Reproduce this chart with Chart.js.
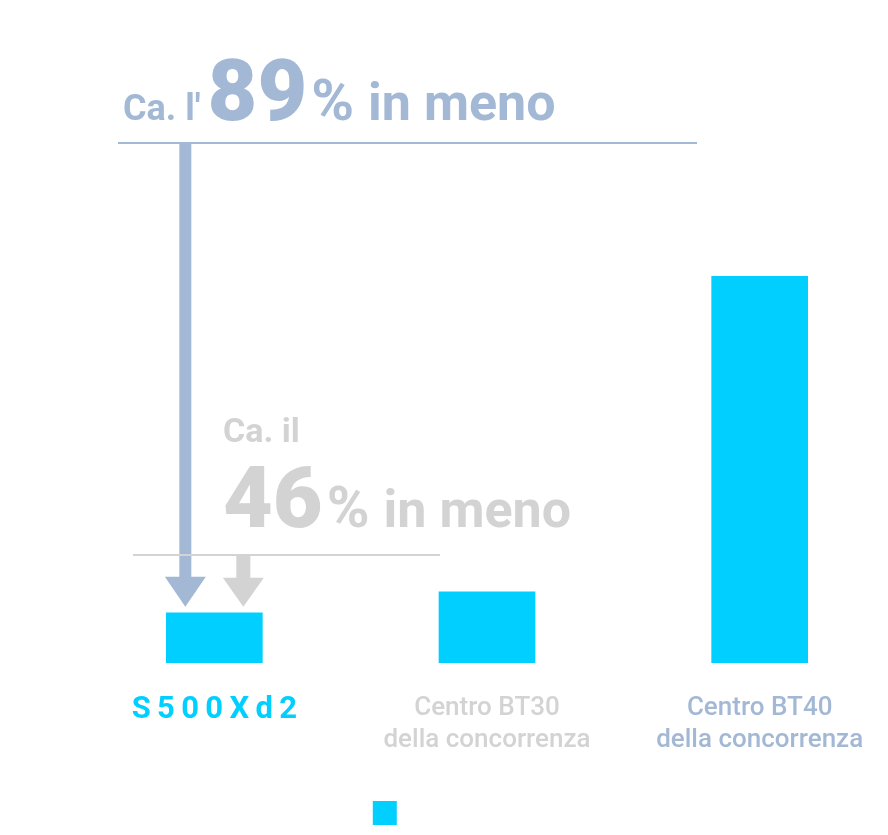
<!DOCTYPE html>
<html>
<head>
<meta charset="utf-8">
<script src="https://cdn.jsdelivr.net/npm/chart.js@4/dist/chart.umd.min.js"></script>
<style>
  html, body { margin: 0; padding: 0; background: #ffffff; overflow: hidden; }
  #wrap { width: 896px; height: 835px; }
</style>
</head>
<body>
<div id="wrap"><canvas id="chart"></canvas></div>
<script>
// categories shown under the bars
const categories = ["S500Xd2", ["Centro BT30", "della concorrenza"], ["Centro BT40", "della concorrenza"]];
// relative values (BT40 = 100)
const values = [13, 18.4, 100];
const seriesLabel = "Consumo energetico";
// colours of each tick label
const tickColors = ["#00cfff", "#d3d3d3", "#a3b8d4"];

const CYAN = "#00cfff";
const BLUE = "#a3b8d4";
const GRAY = "#d3d3d3";
const FONT = "Roboto, 'Liberation Sans', sans-serif";

// draws one annotation: small text + big number + % + "in meno"
function drawPercent(ctx, x, y, parts, color) {
    ctx.fillStyle = color;
    ctx.textBaseline = "alphabetic";
    ctx.textAlign = "left";
    let cx = x;
    parts.forEach(p => {
        ctx.font = (p.weight || "bold") + " " + p.size + "px " + FONT;
        ctx.fillText(p.text, cx, y);
        cx += ctx.measureText(p.text).width + (p.gap || 0);
    });
}

function drawArrow(ctx, x, yTop, yTip, shaft, head, headH, color) {
    ctx.fillStyle = color;
    ctx.fillRect(x - shaft / 2, yTop, shaft, yTip - headH - yTop + 1);
    ctx.beginPath();
    ctx.moveTo(x - head / 2, yTip - headH);
    ctx.lineTo(x + head / 2, yTip - headH);
    ctx.lineTo(x, yTip);
    ctx.closePath();
    ctx.fill();
}

// custom plugin for the "in meno" call-outs
const callouts = {
    id: "callouts",
    afterDraw(chart) {
        const ctx = chart.ctx;
        const bar = chart.getDatasetMeta(0).data[0];
        const tip = bar.y - 6;
        ctx.save();

        // top call-out (vs BT40)
        drawPercent(ctx, 123, 120, [
            { text: "Ca. l'", size: 36, gap: 7 },
            { text: "89", size: 86, weight: "900", gap: 4 },
            { text: "%", size: 58, gap: 14 },
            { text: "in meno", size: 52 }
        ], BLUE);
        ctx.fillStyle = BLUE;
        ctx.fillRect(118, 142, 579, 2);
        drawArrow(ctx, bar.x - 29, 143, tip, 12, 41, 30, BLUE);

        // lower call-out (vs BT30)
        drawPercent(ctx, 223, 442, [{ text: "Ca. il", size: 34 }], GRAY);
        drawPercent(ctx, 223, 527, [
            { text: "46", size: 86, weight: "900", gap: 4 },
            { text: "%", size: 58, gap: 14 },
            { text: "in meno", size: 52 }
        ], GRAY);
        ctx.fillStyle = GRAY;
        ctx.fillRect(133, 554, 307, 2);
        drawArrow(ctx, bar.x + 29, 556, tip, 14, 41, 29, GRAY);

        ctx.restore();
    }
};

const graphRef = document.getElementById("chart");

const chart = new Chart(graphRef, {
    type: "bar",
    data: {
        labels: categories,
        datasets: [{
            label: seriesLabel,
            data: values,
            backgroundColor: CYAN,
            barThickness: 96
        }]
    },
    options: {
        responsive: true,
        maintainAspectRatio: false,
        animation: false,
        layout: { padding: { top: 276, left: 78, right: 0, bottom: 0 } },
        plugins: {
            legend: {
                position: "bottom",
                labels: {
                    boxWidth: 24,
                    boxHeight: 24,
                    padding: 4,
                    color: "#ffffff",
                    font: { size: 21, family: FONT }
                }
            },
            tooltip: { enabled: false }
        },
        scales: {
            x: {
                grid: { display: false, drawTicks: false },
                border: { display: false },
                // extra room between the labels and the legend
                afterFit: scale => { scale.height += 12; },
                ticks: {
                    padding: 29,
                    maxRotation: 0,
                    autoSkip: false,
                    color: ctx => tickColors[ctx.index],
                    font: ctx => ctx.index === 0
                        ? { family: FONT, size: 31, weight: "bold", lineHeight: 1.2 }
                        : { family: FONT, size: 26, weight: "500", lineHeight: 1.23 },
                    callback: function (value, index) {
                        const lbl = this.getLabelForValue(value);
                        // wide letter spacing on the product name
                        return index === 0 ? lbl.split("").join("\u2009") : lbl;
                    }
                }
            },
            y: {
                display: false,
                min: 0,
                max: 100
            }
        }
    },
    plugins: [callouts]
});
</script>
</body>
</html>
